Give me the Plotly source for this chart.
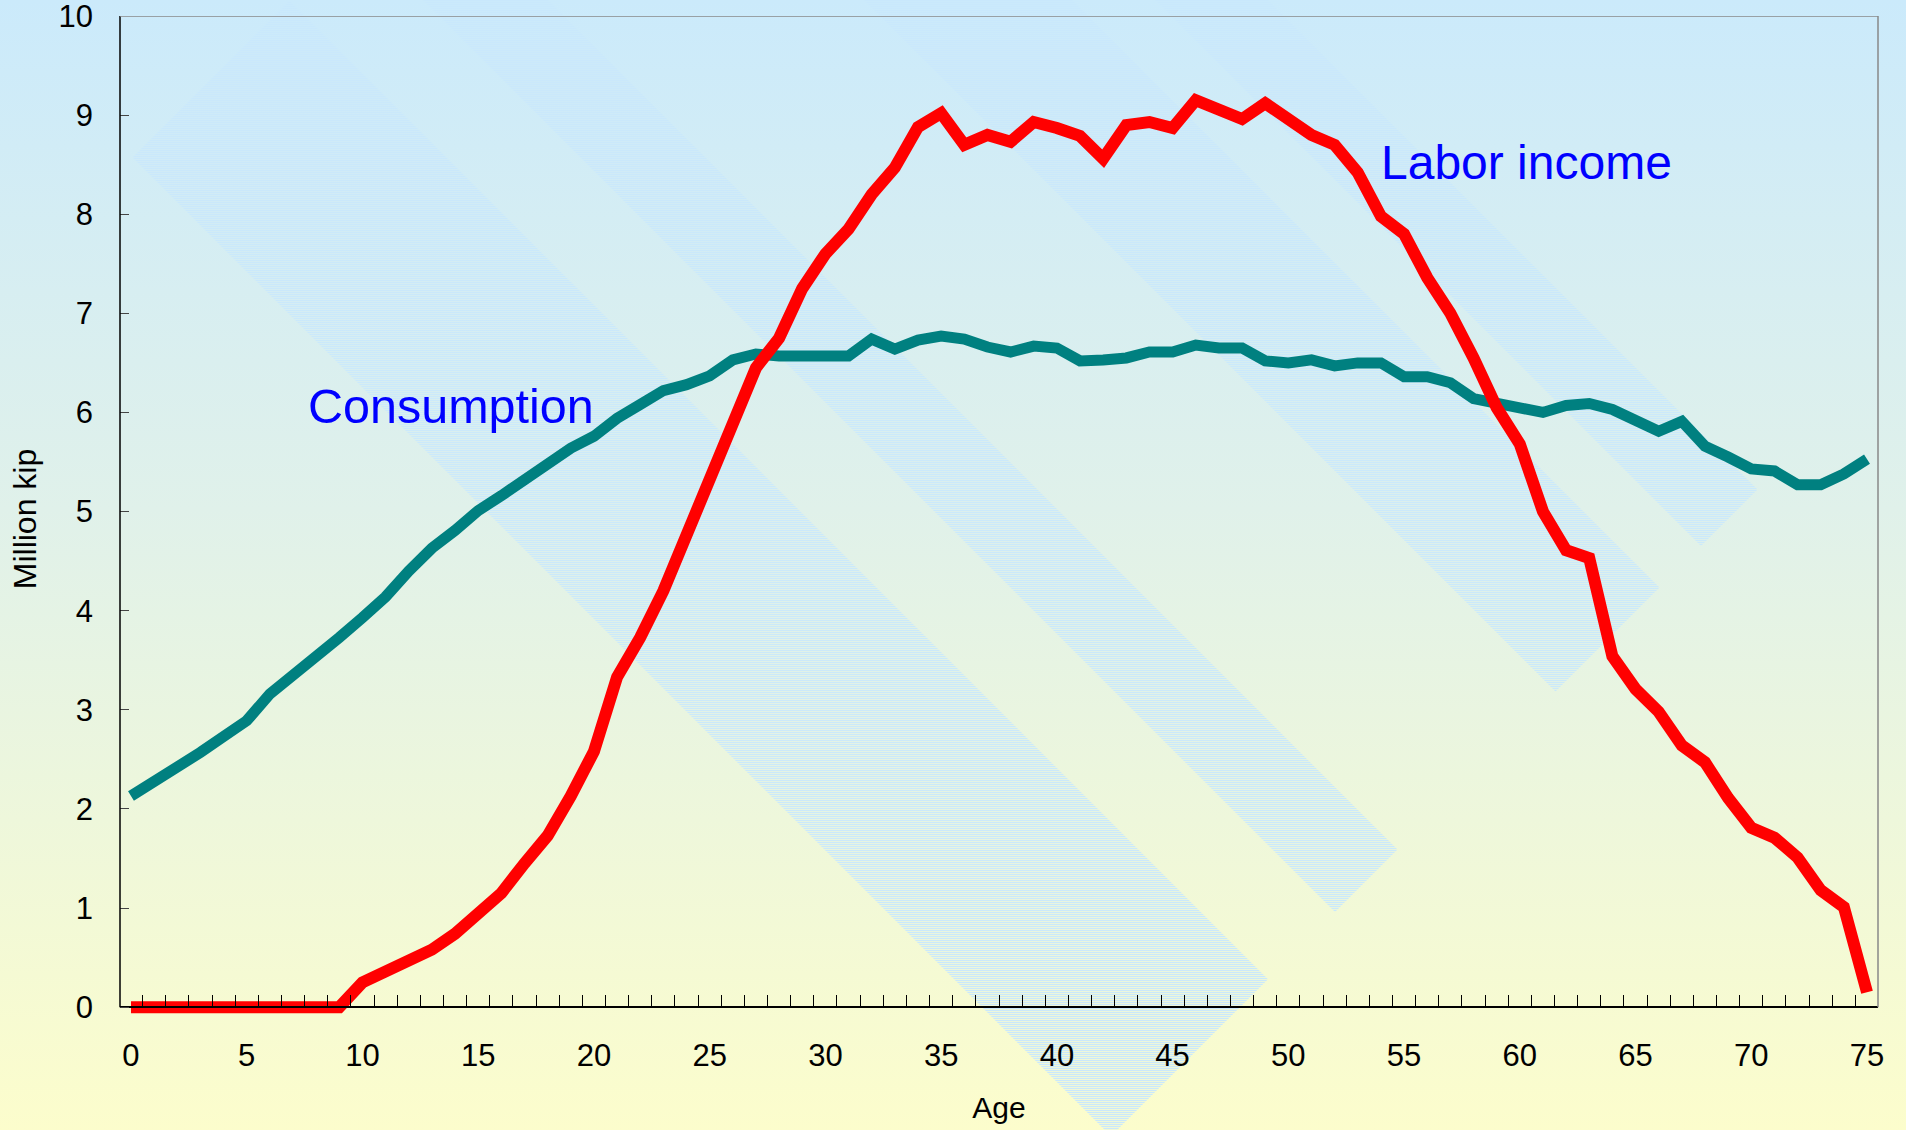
import base64
import plotly.graph_objects as go

# ---------------- data ----------------
ages = list(range(0, 76))

labor_income = [
    0, 0, 0, 0, 0, 0, 0, 0, 0, 0,
    0.25, 0.35, 0.45, 0.58, 0.74, 0.95, 1.15, 1.45, 1.73, 2.13,
    2.58, 3.33, 3.73, 4.20, 4.75, 5.33, 5.86, 6.45, 6.75, 7.25,
    7.60, 7.85, 8.20, 8.47, 8.88, 9.02, 8.70, 8.80, 8.73, 8.93,
    8.87, 8.79, 8.56, 8.90, 8.93, 8.87, 9.15, 9.06, 8.96, 9.12,
    8.95, 8.80, 8.70, 8.42, 7.98, 7.80, 7.36, 7.00, 6.55, 6.05,
    5.68, 5.00, 4.61, 4.53, 3.54, 3.21, 2.98, 2.64, 2.47, 2.11,
    1.81, 1.71, 1.51, 1.18, 1.01, 0.15,
]

consumption = [
    2.13, 2.27, 2.43, 2.57, 2.73, 2.89, 3.16, 3.34, 3.53, 3.73,
    3.93, 4.14, 4.40, 4.63, 4.81, 5.01, 5.16, 5.33, 5.48, 5.64,
    5.76, 5.94, 6.08, 6.22, 6.28, 6.37, 6.53, 6.59, 6.57, 6.57,
    6.58, 6.57, 6.74, 6.64, 6.73, 6.77, 6.74, 6.66, 6.61, 6.67,
    6.65, 6.52, 6.53, 6.55, 6.61, 6.61, 6.68, 6.65, 6.65, 6.52,
    6.50, 6.53, 6.47, 6.50, 6.50, 6.36, 6.36, 6.30, 6.14, 6.10,
    6.04, 6.00, 6.07, 6.09, 6.03, 5.91, 5.81, 5.91, 5.66, 5.55,
    5.43, 5.41, 5.27, 5.27, 5.38, 5.53,
]

x_tick_vals = list(range(0, 76, 5))
y_tick_vals = list(range(0, 11))

series_names = ["Labor income", "Consumption"]
x_title = "Age"
y_title = "Million kip"

# ---------------- geometry / style ----------------
W, H = 1906, 1130
ML, MR, MT = 120, 28, 16
Y_MIN, Y_MAX = -0.15, 10
PX_PER_UNIT = 99.1
plot_h = (Y_MAX - Y_MIN) * PX_PER_UNIT
MB = H - MT - plot_h
plot_w = W - ML - MR

FONT = "Liberation Sans, Arial, sans-serif"

# background: vertical gradient with diagonal hatched bands (decorative)
bands = [(-25, 289), (423, 548), (864, 1072), (1155, 1268)]
S_TOP, S_BOT = 290, 2247


def band_poly(c1, c2):
    pts = []
    for c, s in [(c1, S_TOP), (c2, S_TOP), (c2, S_BOT), (c1, S_BOT)]:
        pts.append(f"{(c + s) / 2:.1f},{(s - c) / 2:.1f}")
    return f'<polygon points="{" ".join(pts)}" fill="url(#h)"/>'


polys = "".join(band_poly(c1, c2) for c1, c2 in bands)
svg = f'''<svg xmlns="http://www.w3.org/2000/svg" width="{W}" height="{H}" viewBox="0 0 {W} {H}" preserveAspectRatio="none">
<defs>
<linearGradient id="g" x1="0" y1="0" x2="0" y2="1">
<stop offset="0" stop-color="#cbeafb"/>
<stop offset="0.45" stop-color="#e0f1ea"/>
<stop offset="1" stop-color="#fcfdcc"/>
</linearGradient>
<pattern id="h" width="8" height="2" patternUnits="userSpaceOnUse">
<rect x="0" y="0" width="8" height="1" fill="#c9e8fc"/>
</pattern>
</defs>
<rect width="{W}" height="{H}" fill="url(#g)"/>
{polys}
</svg>'''
svg_uri = "data:image/svg+xml;base64," + base64.b64encode(svg.encode()).decode()

fig = go.Figure()

fig.add_trace(go.Scatter(
    x=ages, y=consumption, mode="lines", name=series_names[1],
    line=dict(color="#008080", width=11),
    hoverinfo="x+y",
))
fig.add_trace(go.Scatter(
    x=ages, y=labor_income, mode="lines", name=series_names[0],
    line=dict(color="#FF0000", width=12),
    hoverinfo="x+y",
))

fig.add_layout_image(dict(
    source=svg_uri, xref="paper", yref="paper",
    x=-ML / plot_w, y=1 + MT / plot_h,
    sizex=W / plot_w, sizey=H / plot_h,
    xanchor="left", yanchor="top", sizing="stretch", layer="below",
))

# axis frame: left axis black, top/right gray
fig.add_shape(type="line", xref="paper", yref="y", x0=0, x1=0, y0=0, y1=10,
              line=dict(color="black", width=1.5), layer="above")
fig.add_shape(type="line", xref="paper", yref="y", x0=0, x1=1, y0=10, y1=10,
              line=dict(color="#888888", width=1.5), layer="above")
fig.add_shape(type="line", xref="paper", yref="y", x0=1, x1=1, y0=0, y1=10,
              line=dict(color="#888888", width=1.5), layer="above")

fig.add_annotation(x=60.3, y=8.52, xref="x", yref="y", text=series_names[0],
                   showarrow=False, xanchor="center", yanchor="middle",
                   font=dict(family=FONT, size=48, color="#0000FF"))
fig.add_annotation(x=13.82, y=6.07, xref="x", yref="y", text=series_names[1],
                   showarrow=False, xanchor="center", yanchor="middle",
                   font=dict(family=FONT, size=48.5, color="#0000FF"))

fig.update_layout(
    width=W, height=H,
    margin=dict(l=ML, r=MR, t=MT, b=MB, pad=0),
    paper_bgcolor="rgba(0,0,0,0)",
    plot_bgcolor="rgba(0,0,0,0)",
    showlegend=False,
    font=dict(family=FONT, color="black"),
    xaxis=dict(
        range=[-0.475, 75.475], automargin=False,
        anchor="free", position=(0 - Y_MIN) / (Y_MAX - Y_MIN),
        tickmode="array", tickvals=x_tick_vals,
        ticks="", showgrid=False, zeroline=False,
        showline=True, linecolor="black", linewidth=1.5,
        tickfont=dict(family=FONT, size=31, color="black"),
        ticklabelstandoff=21, ticklabeloverflow="allow",
        minor=dict(ticks="inside", ticklen=11, tickwidth=1, tickcolor="black",
                   tickmode="linear", tick0=0.5, dtick=1, showgrid=False),
        title=dict(text=x_title, font=dict(family=FONT, size=30, color="black"),
                   standoff=24),
    ),
    yaxis=dict(
        range=[Y_MIN, Y_MAX], automargin="left",
        tickmode="array", tickvals=y_tick_vals,
        ticks="inside", ticklen=9, tickwidth=1, tickcolor="#444444",
        showgrid=False, zeroline=False, showline=False,
        tickfont=dict(family=FONT, size=31, color="black"),
        ticklabelstandoff=26, ticklabeloverflow="allow",
        title=dict(text=y_title, font=dict(family=FONT, size=32, color="black"),
                   standoff=12),
    ),
)

fig.write_html("out.html", config={"displayModeBar": False},
               post_script="document.body.style.margin='0px';")
